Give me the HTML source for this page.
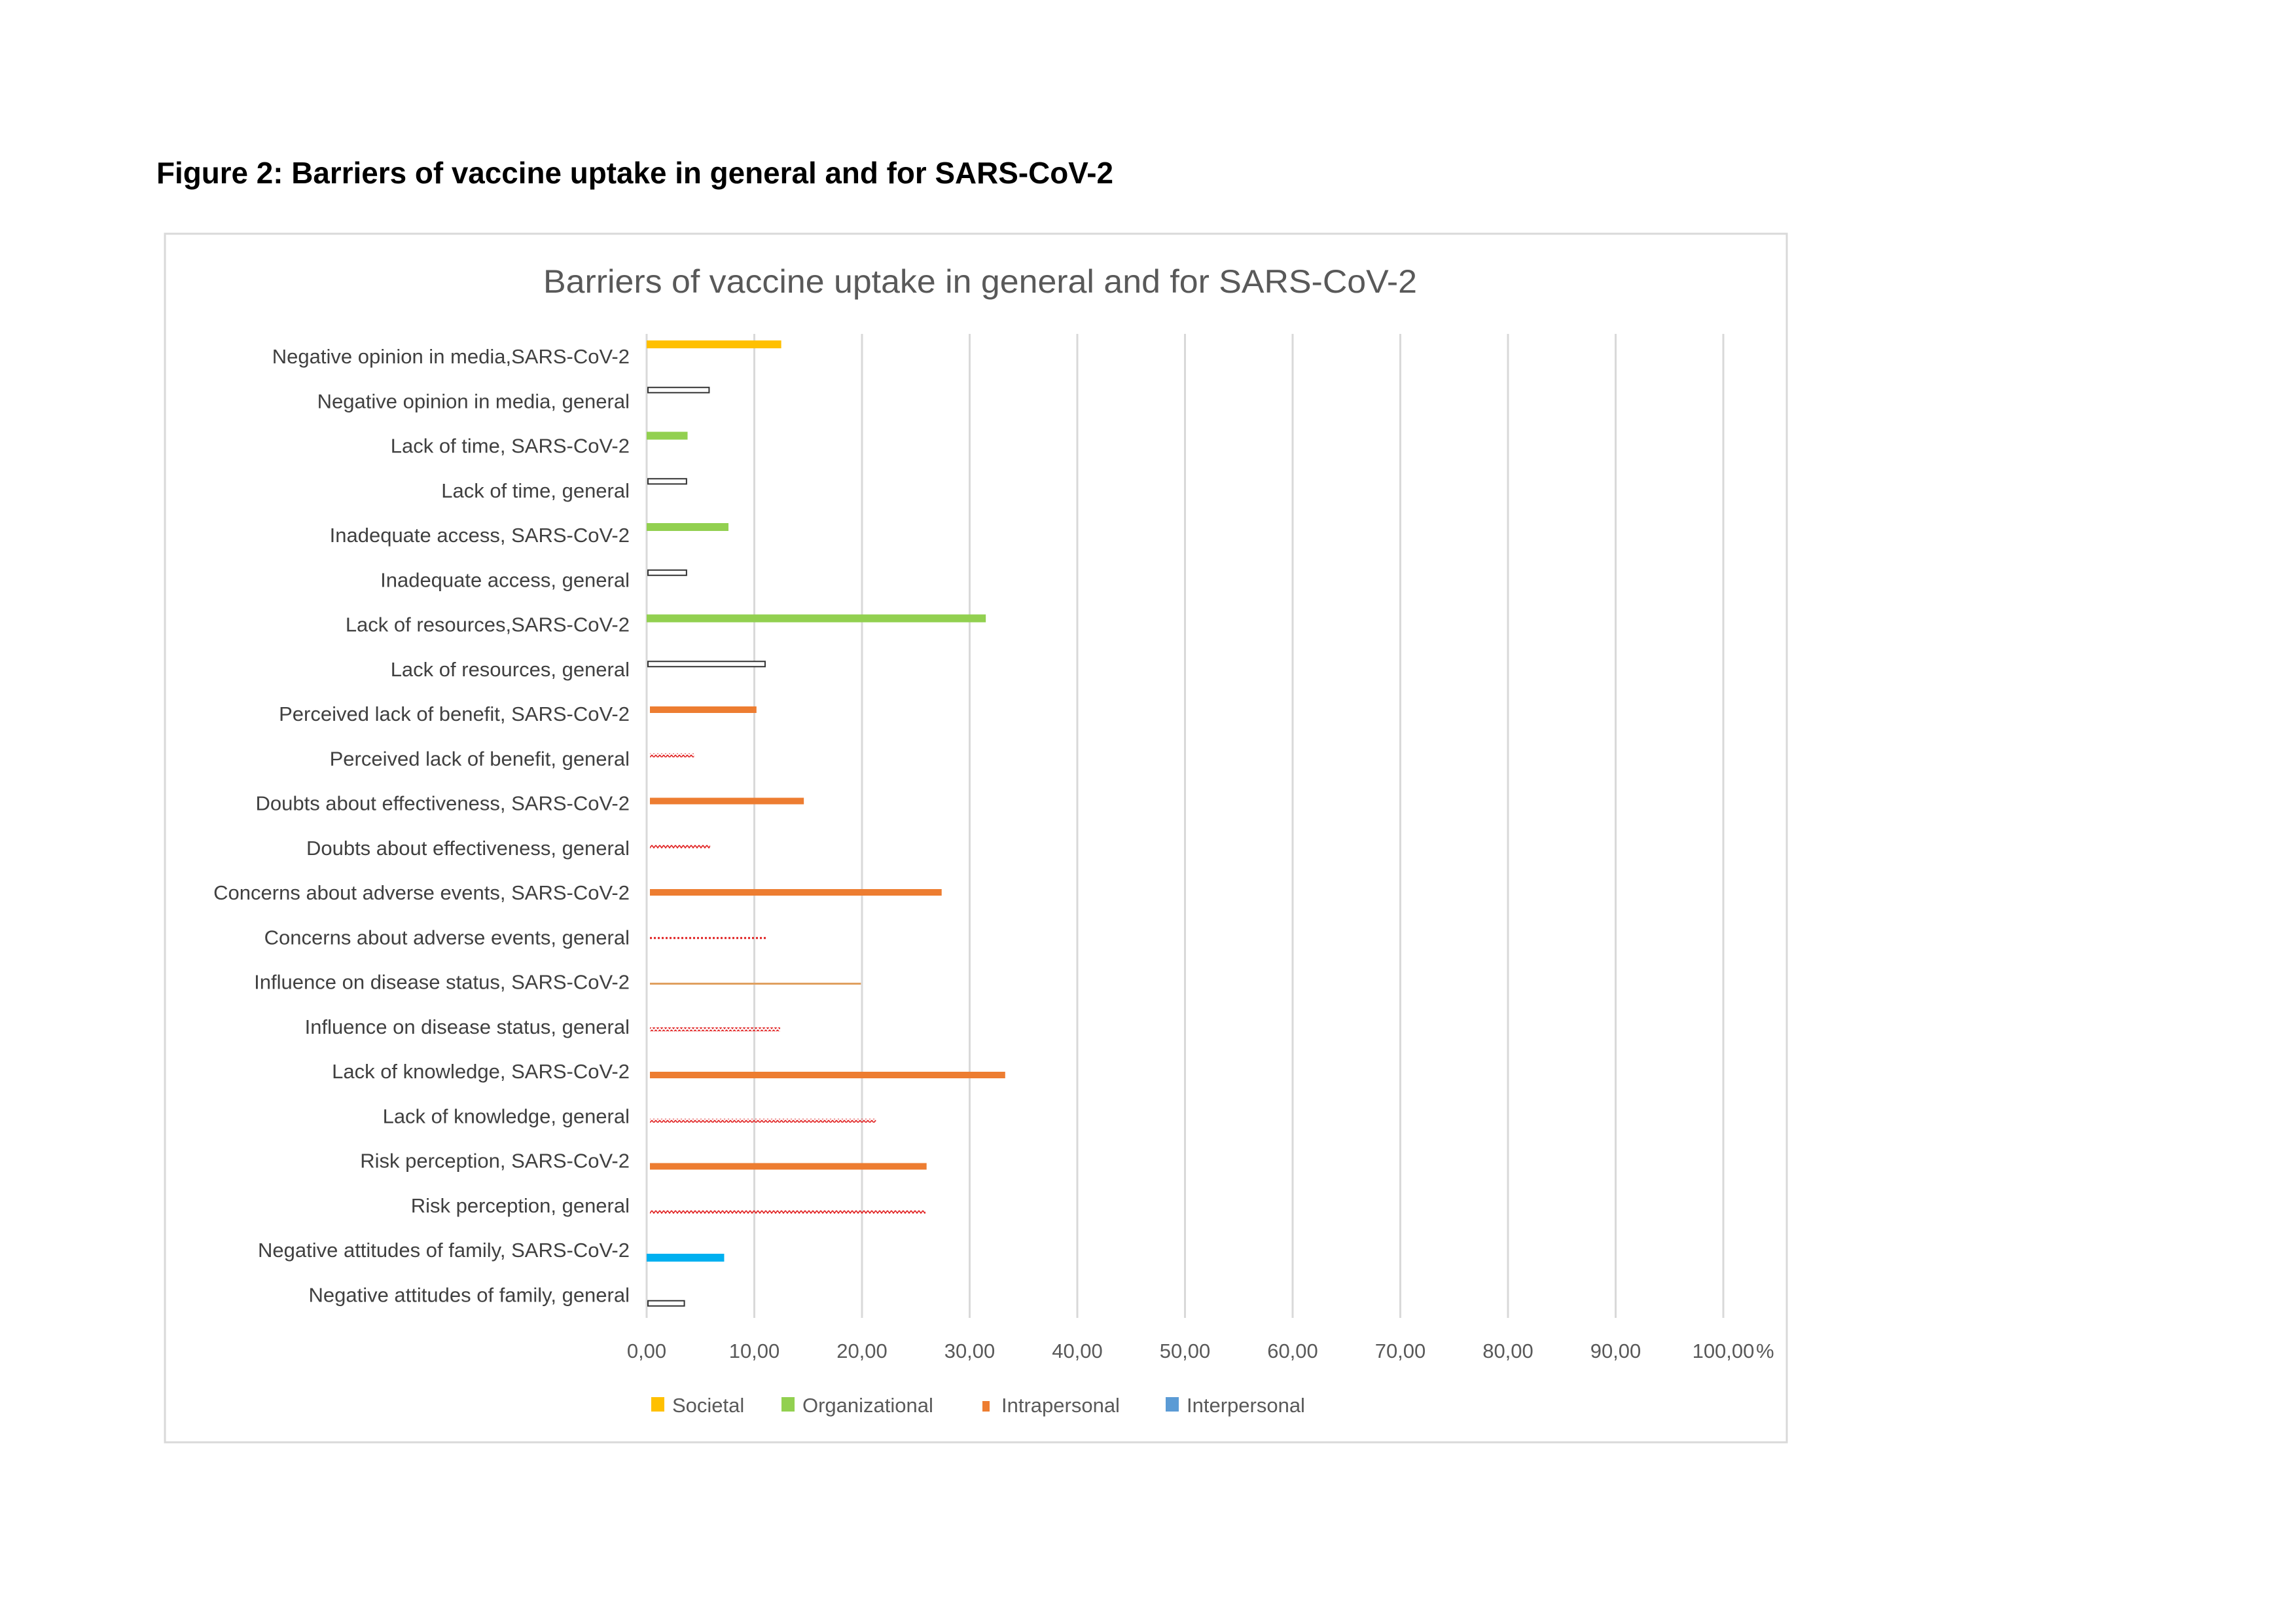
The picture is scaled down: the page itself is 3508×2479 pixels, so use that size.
<!DOCTYPE html>
<html><head><meta charset="utf-8"><style>
html,body{margin:0;padding:0;background:#fff;}
svg{display:block;}
text{font-family:"Liberation Sans",sans-serif;}
</style></head><body>
<svg id="chart" width="3508" height="2479" viewBox="0 0 3508 2479" xmlns="http://www.w3.org/2000/svg">
<defs>
<pattern id="zig" width="6" height="6" patternUnits="userSpaceOnUse">
<path d="M0 1 L3 5 L6 1" stroke="#e02020" stroke-width="1.6" fill="none"/>
</pattern>
</defs>
<text x="239" y="280" font-size="46" font-weight="bold" fill="#000" textLength="1462" lengthAdjust="spacingAndGlyphs">Figure 2: Barriers of vaccine uptake in general and for SARS-CoV-2</text>
<rect x="252" y="357" width="2478" height="1846" fill="#fff" stroke="#d9d9d9" stroke-width="3"/>
<text x="830" y="447" font-size="50" fill="#595959" textLength="1335" lengthAdjust="spacingAndGlyphs">Barriers of vaccine uptake in general and for SARS-CoV-2</text>
<g id="grid"></g><g id="bars"></g><g id="labels"></g><g id="ticks"></g><g id="legend"></g>
</svg>
<script>
const categories = ["Negative opinion in media,SARS-CoV-2","Negative opinion in media, general","Lack of time, SARS-CoV-2","Lack of time, general","Inadequate access, SARS-CoV-2","Inadequate access, general","Lack of resources,SARS-CoV-2","Lack of resources, general","Perceived lack of benefit, SARS-CoV-2","Perceived lack of benefit, general","Doubts about effectiveness, SARS-CoV-2","Doubts about effectiveness, general","Concerns about adverse events, SARS-CoV-2","Concerns about adverse events, general","Influence on disease status, SARS-CoV-2","Influence on disease status, general","Lack of knowledge, SARS-CoV-2","Lack of knowledge, general","Risk perception, SARS-CoV-2","Risk perception, general","Negative attitudes of family, SARS-CoV-2","Negative attitudes of family, general"];
const values = [12.5,5.8,3.8,3.7,7.6,3.7,31.5,11.0,10.2,4.4,14.6,5.9,27.4,11.2,19.9,12.4,33.3,21.3,26.0,25.9,7.2,3.5];
const barStyles = ["societal","outline","org","outline","org","outline","org","outline","intra","zig","intra","zig","intra","dots","thin","zig","intra","zig","intra","zig","inter","outline"];
const tickValues = [0,10,20,30,40,50,60,70,80,90,100];
const tickLabels = ["0,00","10,00","20,00","30,00","40,00","50,00","60,00","70,00","80,00","90,00","100,00"];
const legendNames = ["Societal","Organizational","Intrapersonal","Interpersonal"];
const legendColors = ["#FFC000","#92D050","#ED7D31","#5B9BD5"];

const NS="http://www.w3.org/2000/svg";
const X0=988,X1=2633,YT=510,YB=2013;
const xs=v=>X0+(v/100)*(X1-X0);
const labelY=i=>544+68.25*i;
const barY=i=>526+69.75*i;
function mk(tag,attrs,parent){const e=document.createElementNS(NS,tag);for(const k in attrs)e.setAttribute(k,attrs[k]);parent.appendChild(e);return e;}
const grid=document.getElementById('grid'),bars=document.getElementById('bars'),labels=document.getElementById('labels'),ticks=document.getElementById('ticks'),legend=document.getElementById('legend');

tickValues.forEach((v,i)=>{
  const l=mk('line',{x1:xs(v),x2:xs(v),y1:YT,y2:YB,stroke:'#d9d9d9','stroke-width':3},grid);
  
  
  const t=mk('text',{x:xs(v),y:2074,'font-size':31,fill:'#595959','text-anchor':'middle'},ticks);
  t.textContent=tickLabels[i];
  
  
});
const pct=mk('text',{x:xs(100)+50,y:2074,'font-size':31,fill:'#595959'},ticks);
pct.textContent='%';



categories.forEach((c,i)=>{
  const t=mk('text',{x:962,y:labelY(i)+11,'font-size':31,fill:'#404040','text-anchor':'end'},labels);
  t.textContent=c;
  
  
  const s=barStyles[i],w=xs(values[i])-X0,y=barY(i);
  let r;
  if(s==='societal')r=mk('rect',{x:X0,y:y-6,width:w,height:12,fill:'#FFC000'},bars);
  else if(s==='org')r=mk('rect',{x:X0,y:y-6,width:w,height:12,fill:'#92D050'},bars);
  else if(s==='inter')r=mk('rect',{x:X0,y:y-6,width:w,height:12,fill:'#00B0F0'},bars);
  else if(s==='intra')r=mk('rect',{x:X0+5,y:y-5,width:w-5,height:10,fill:'#ED7D31'},bars);
  else if(s==='outline')r=mk('rect',{x:X0+2,y:y-4,width:w-2,height:8,fill:'#fff',stroke:'#333','stroke-width':2},bars);
  else if(s==='zig')r=mk('rect',{x:X0+5,y:y-3,width:w-5,height:6,fill:'url(#zig)'},bars);
  else if(s==='dots')r=mk('line',{x1:X0+5,x2:X0+w,y1:y,y2:y,stroke:'#e02020','stroke-width':3,'stroke-dasharray':'3 3'},bars);
  else r=mk('rect',{x:X0+5,y:y-1.5,width:w-5,height:3,fill:'#E0A060'},bars);
  
  
});

const legX=[995,1194,1501,1781];
legendNames.forEach((n,i)=>{
  const small=i===2;
  const sq=mk('rect',{x:legX[i],y:small?2140:2134,width:small?11:20,height:small?16:22,fill:legendColors[i]},legend);
  
  
  const t=mk('text',{x:legX[i]+(small?29:32),y:2157,'font-size':31,fill:'#595959'},legend);
  t.textContent=n;
  
  
});
</script>
</body></html>
